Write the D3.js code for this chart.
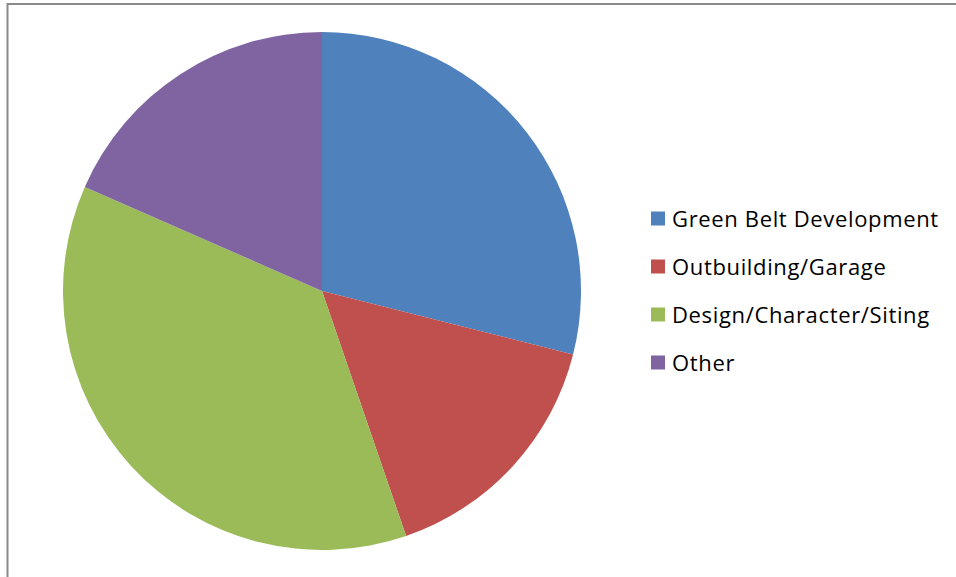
<!DOCTYPE html>
<html>
<head>
<meta charset="utf-8">
<script src="https://cdn.jsdelivr.net/npm/d3@7"></script>
<style>
  html, body { margin: 0; padding: 0; background: #fff; }
  svg { display: block; }
</style>
</head>
<body>
<svg id="chart" width="956" height="577"></svg>
<script>
// Complaint categories and counts
const categories = ["Green Belt Development", "Outbuilding/Garage", "Design/Character/Siting", "Other"];
const counts = [11, 6, 14, 7];
const colors = ["#4F81BD", "#C0504D", "#9BBB59", "#8064A2"];

const svg = d3.select("#chart");

// Chart area frame
svg.append("rect")
  .attr("x", 7.5).attr("y", 4)
  .attr("width", 1000).attr("height", 700)
  .attr("fill", "#fff")
  .attr("stroke", "#8a8a8a")
  .attr("stroke-width", 2);

const cx = 322, cy = 291, radius = 259;

const pie = d3.pie().sort(null).value(d => d.value);
const arc = d3.arc().innerRadius(0).outerRadius(radius);
const data = categories.map((c, i) => ({ name: c, value: counts[i] }));

const color = d3.scaleOrdinal().domain(categories).range(colors);

svg.append("g")
  .attr("transform", `translate(${cx},${cy})`)
  .selectAll("path")
  .data(pie(data))
  .join("path")
  .attr("d", arc)
  .attr("fill", d => color(d.data.name));

// Legend
const legendY = d3.scalePoint().domain(categories).range([219, 363]);
const legend = svg.append("g")
  .selectAll("g")
  .data(categories)
  .join("g")
  .attr("transform", d => `translate(651,${legendY(d)})`);

legend.append("rect")
  .attr("x", 0).attr("y", -7.5)
  .attr("width", 14).attr("height", 14)
  .attr("fill", d => color(d));

legend.append("text")
  .attr("x", 21).attr("y", 0)
  .attr("dy", "0.35em")
  .attr("font-family", "'Open Sans', sans-serif")
  .attr("font-size", 22)
  .attr("letter-spacing", 0.65)
  .attr("fill", "#000")
  .text(d => d);
</script>
</body>
</html>
